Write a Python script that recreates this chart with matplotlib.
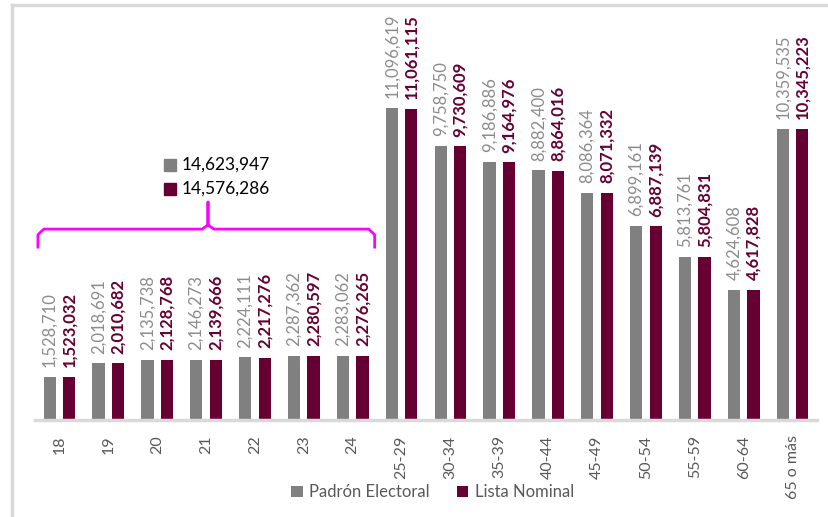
import matplotlib.pyplot as plt
from matplotlib.lines import Line2D
import numpy as np

plt.rcParams['font.family'] = ['Lato', 'DejaVu Sans']

grupos = ['18', '19', '20', '21', '22', '23', '24', '25-29', '30-34', '35-39',
          '40-44', '45-49', '50-54', '55-59', '60-64', '65 o más']
padron = [1528710, 2018691, 2135738, 2146273, 2224111, 2287362, 2283062,
          11096619, 9758750, 9186886, 8882400, 8086364, 6899161, 5813761,
          4624608, 10359535]
lista = [1523032, 2010682, 2128768, 2139666, 2217276, 2280597, 2276265,
         11061115, 9730609, 9164976, 8864016, 8071332, 6887139, 5804831,
         4617828, 10345223]
total_18_24 = ['14,623,947', '14,576,286']

GRIS = '#808080'
GUINDA = '#660033'
MAGENTA = '#ff00ff'

fig = plt.figure(figsize=(8.29, 5.17), dpi=100)
ax = fig.add_axes([0.0422, 0.1876, 0.9433, 0.7886])

x = np.arange(len(grupos))
off = 0.2
w = 0.25
ax.bar(x - off, padron, w, color=GRIS, label='Padrón Electoral')
ax.bar(x + off, lista, w, color=GUINDA, label='Lista Nominal')

for xi, p, l in zip(x, padron, lista):
    ax.annotate(f'{p:,}', (xi - off, p), xytext=(0, 7), textcoords='offset points',
                rotation=90, ha='center', va='bottom', fontsize=12, color='#8c8c8c')
    ax.annotate(f'{l:,}', (xi + off, l), xytext=(0, 7), textcoords='offset points',
                rotation=90, ha='center', va='bottom', fontsize=12, color=GUINDA,
                fontweight='bold')

ax.set_xlim(-0.5, len(grupos) - 0.5)
ax.set_ylim(0, 14.5e6)
ax.set_xticks(x)
ax.set_xticklabels(grupos, rotation=90, fontsize=11.5, color='#595959')
ax.tick_params(axis='x', length=0, pad=11)
ax.set_yticks([])
for s in ['top', 'right', 'left']:
    ax.spines[s].set_visible(False)
ax.spines['bottom'].set_color('#d9d9d9')
ax.spines['bottom'].set_linewidth(2.5)

# llave magenta sobre 18-24
bx0, bx1, bxc = -0.44, 6.45, 3.04
by, by_low, by_top = 6.79e6, 6.15e6, 7.75e6
r = 0.12
ax.plot([bx0, bx0, bx0 + r, bxc - r, bxc, bxc, bxc, bxc + r, bx1 - r, bx1, bx1],
        [by_low, by - 0.2e6, by, by, by + 0.15e6, by_top, by + 0.15e6, by, by, by - 0.2e6, by_low],
        color=MAGENTA, lw=2, solid_joinstyle='round', clip_on=False)

ax.plot([2.26], [9.07e6], marker='s', ms=9, color=GRIS, linestyle='none')
ax.plot([2.26], [8.22e6], marker='s', ms=9, color=GUINDA, linestyle='none')
ax.text(2.51, 9.07e6, total_18_24[0], fontsize=12.5, va='center', ha='left', color='black')
ax.text(2.51, 8.22e6, total_18_24[1], fontsize=12.5, va='center', ha='left', color='black')

leg = fig.legend(loc='center', bbox_to_anchor=(0.522, 0.048), ncol=2, frameon=False,
                 fontsize=12, handlelength=0.7, handleheight=0.7, handletextpad=0.4,
                 columnspacing=1.6)
for t in leg.get_texts():
    t.set_color('#595959')

# marco
fig.add_artist(Line2D([0.0145, 0.0145], [0, 0.9894], color='#d9d9d9', lw=2.5,
                      transform=fig.transFigure))
fig.add_artist(Line2D([0.0145, 1.0], [0.9894, 0.9894], color='#d9d9d9', lw=2.5,
                      transform=fig.transFigure))

fig.savefig('out.png', dpi=100)
